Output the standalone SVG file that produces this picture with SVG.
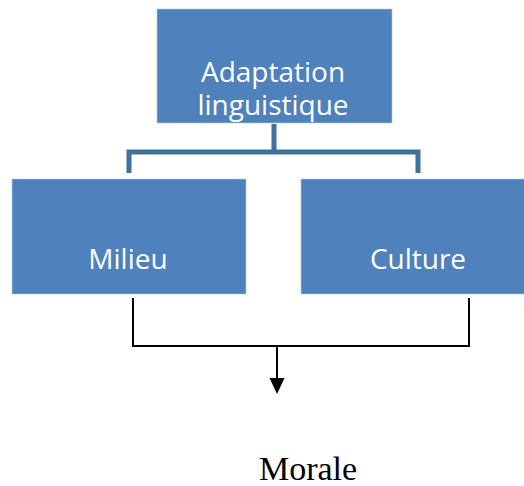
<svg xmlns="http://www.w3.org/2000/svg" width="524" height="486" viewBox="0 0 524 486">
  <defs>
    <style>
      .box { fill: #4F81BD; stroke: #B9CDE5; stroke-width: 0.6; }
      .lbl { font-family: "Open Sans", "Liberation Sans", sans-serif; font-size: 28px; fill: #FFFFFF; text-anchor: middle; }
      .tree { fill: none; stroke: #41719C; stroke-width: 5; }
      .join { fill: none; stroke: #000000; stroke-width: 2; }
      .out { font-family: "Liberation Serif", "Times New Roman", serif; font-size: 34px; fill: #000000; text-anchor: middle; }
    </style>
  </defs>

  <g id="connectors">
    <!-- blue tree from the top box to both children -->
    <path class="tree" d="M274,124 V152 M129,173 V152 H418 V173"/>
    <!-- black bracket joining the children, then the arrow down -->
    <path class="join" d="M133,298 V347 M469,298 V347 M132,346 H470"/>
    <line x1="277" y1="346" x2="277" y2="379" stroke="#000" stroke-width="2"/>
    <path d="M269.5,378 L284.5,378 L277,394 Z" fill="#000"/>
  </g>

  <g id="node-adaptation">
    <rect class="box" x="157" y="9" width="235" height="114"/>
    <text class="lbl" x="273" y="82">Adaptation<tspan x="273" dy="33">linguistique</tspan></text>
  </g>

  <g id="node-milieu">
    <rect class="box" x="12" y="179" width="234" height="115"/>
    <text class="lbl" x="128" y="269">Milieu</text>
  </g>

  <g id="node-culture">
    <rect class="box" x="301" y="179" width="234" height="115"/>
    <text class="lbl" x="418" y="269">Culture</text>
  </g>

  <g id="node-morale">
    <text class="out" x="308" y="480">Morale</text>
  </g>
</svg>
